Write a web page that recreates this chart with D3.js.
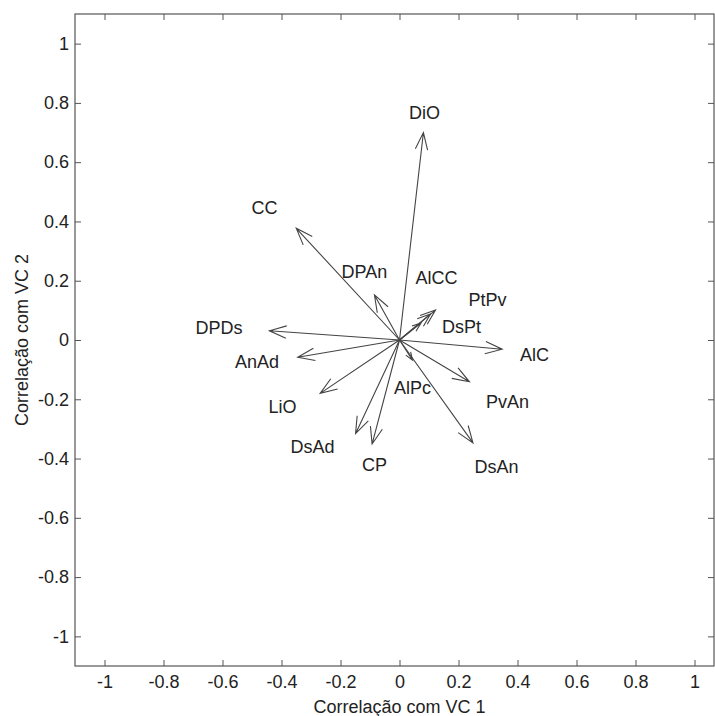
<!DOCTYPE html>
<html>
<head>
<meta charset="utf-8">
<script src="https://cdn.jsdelivr.net/npm/d3@7"></script>
<style>
  html, body { margin: 0; padding: 0; background: #fff; overflow: hidden; }
  svg { display: block; font-family: "Liberation Sans", Arial, sans-serif; }
</style>
</head>
<body>
<svg id="chart" width="715" height="716"></svg>
<script>
// ---- data ----
const variables = ["DiO", "CC", "DPDs", "AnAd", "LiO", "DsAd", "CP", "DsAn", "PvAn", "AlC", "DPAn", "PtPv", "DsPt", "AlCC", "AlPc"];
const vc1 = [0.081, -0.350, -0.441, -0.345, -0.269, -0.149, -0.093, 0.249, 0.237, 0.348, -0.085, 0.122, 0.105, 0.073, 0.044];
const vc2 = [0.700, 0.377, 0.031, -0.058, -0.180, -0.316, -0.351, -0.347, -0.141, -0.031, 0.152, 0.101, 0.088, 0.057, -0.068];
// label anchor positions (data units)
const labelX = [0.085, -0.458, -0.612, -0.483, -0.397, -0.295, -0.085, 0.329, 0.366, 0.458, -0.119, 0.298, 0.210, 0.125, 0.044];
const labelY = [0.767, 0.446, 0.040, -0.074, -0.226, -0.361, -0.422, -0.426, -0.209, -0.050, 0.230, 0.135, 0.044, 0.209, -0.162];
const tickValues = [-1, -0.8, -0.6, -0.4, -0.2, 0, 0.2, 0.4, 0.6, 0.8, 1];
const tickLabels = ["-1", "-0.8", "-0.6", "-0.4", "-0.2", "0", "0.2", "0.4", "0.6", "0.8", "1"];
const xTitle = "Correlação com VC 1";
const yTitle = "Correlação com VC 2";

(function () {
  const svg = d3.select("#chart");
  const mLeft = 75, mRight = 714, mTop = 14, mBottom = 666;
  const x = d3.scaleLinear().domain([-1.1, 1.066]).range([mLeft, mRight]);
  const y = d3.scaleLinear().domain([-1.1, 1.1]).range([mBottom, mTop]);
  const axisColor = "#555";
  const textColor = "#222";
  const fmt = d => tickLabels[tickValues.indexOf(d)];

  svg.append("rect").attr("x", mLeft).attr("y", mTop).attr("width", mRight - mLeft).attr("height", mBottom - mTop)
    .attr("fill", "none").attr("stroke", axisColor).attr("stroke-width", 1.2);

  const gx = svg.append("g").attr("transform", `translate(0,${mBottom})`)
    .call(d3.axisBottom(x).tickValues(tickValues).tickFormat(fmt).tickSizeInner(-6).tickSizeOuter(0).tickPadding(9));
  const gxt = svg.append("g").attr("transform", `translate(0,${mTop})`)
    .call(d3.axisTop(x).tickValues(tickValues).tickFormat("").tickSizeInner(-6).tickSizeOuter(0));
  const gy = svg.append("g").attr("transform", `translate(${mLeft},0)`)
    .call(d3.axisLeft(y).tickValues(tickValues).tickFormat(fmt).tickSizeInner(-6).tickSizeOuter(0).tickPadding(6));
  const gyr = svg.append("g").attr("transform", `translate(${mRight},0)`)
    .call(d3.axisRight(y).tickValues(tickValues).tickFormat("").tickSizeInner(-6).tickSizeOuter(0));

  [gx, gxt, gy, gyr].forEach(g => {
    g.select(".domain").attr("stroke", "none");
    g.selectAll(".tick line").attr("stroke", axisColor).attr("stroke-width", 1);
    g.selectAll(".tick text").attr("fill", textColor).style("font-size", "18px")
      .style("font-family", "'Liberation Sans', Arial, sans-serif");
  });

  svg.append("text").attr("x", (x(-1) + x(1)) / 2).attr("y", 707).attr("dy", "0.35em")
    .attr("text-anchor", "middle").attr("fill", textColor).style("font-size", "18px").text(xTitle);
  svg.append("text").attr("transform", `translate(22,${y(0)}) rotate(-90)`).attr("dy", "0.35em")
    .attr("text-anchor", "middle").attr("fill", textColor).style("font-size", "18px").text(yTitle);

  const arrowColor = "#444";
  const g = svg.append("g");
  variables.forEach((name, i) => {
    const x0 = x(0), y0 = y(0), x1 = x(vc1[i]), y1 = y(vc2[i]);
    const len = Math.hypot(x1 - x0, y1 - y0);
    const ang = Math.atan2(y1 - y0, x1 - x0);
    const hl = Math.min(18, 0.35 * len);
    const ha = 20 * Math.PI / 180;
    const b1 = [x1 - hl * Math.cos(ang - ha), y1 - hl * Math.sin(ang - ha)];
    const b2 = [x1 - hl * Math.cos(ang + ha), y1 - hl * Math.sin(ang + ha)];
    g.append("path")
      .attr("d", `M${x0},${y0}L${x1},${y1}M${b1[0]},${b1[1]}L${x1},${y1}L${b2[0]},${b2[1]}`)
      .attr("fill", "none").attr("stroke", arrowColor).attr("stroke-width", 1.1);
  });

  variables.forEach((name, i) => {
    svg.append("text").attr("x", x(labelX[i])).attr("y", y(labelY[i])).attr("dy", "0.35em")
      .attr("text-anchor", "middle").attr("fill", textColor).style("font-size", "18px").text(name);
  });
})();
</script>
</body>
</html>
